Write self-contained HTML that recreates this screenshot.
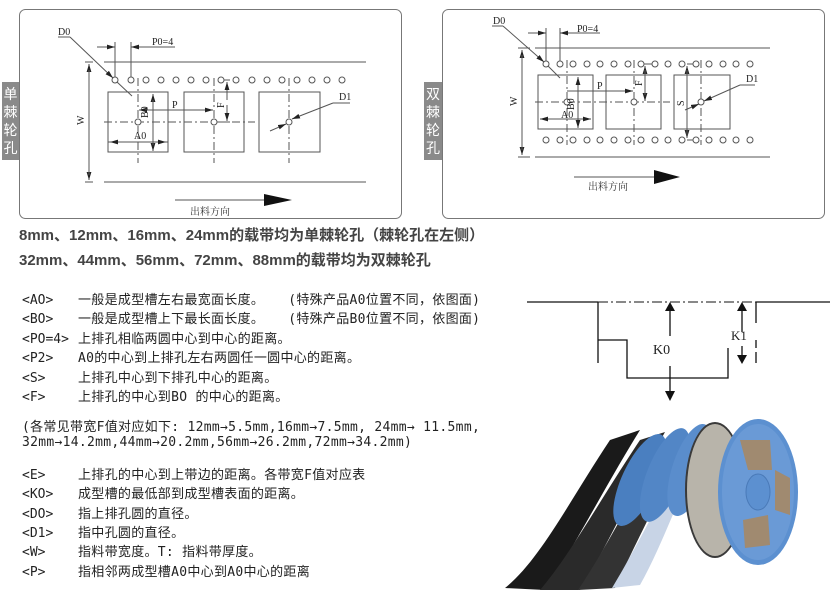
<!DOCTYPE html>
<html><head><meta charset="utf-8"><style>
html,body{margin:0;padding:0;background:#fff;}
body{width:830px;height:600px;position:relative;overflow:hidden;font-family:"Liberation Sans","Noto Sans CJK SC",sans-serif;}
.h{position:absolute;left:19px;font-weight:bold;font-size:15px;color:#444;white-space:nowrap;font-family:"Liberation Sans","Noto Sans CJK SC",sans-serif;}
.r{position:absolute;left:22px;font-size:13px;letter-spacing:0.3px;color:#222;white-space:nowrap;font-family:"DejaVu Sans Mono","Noto Sans CJK SC",monospace;}
.r span{display:inline-block;width:56px;letter-spacing:0;}
.r i{font-style:normal;margin-left:24px;}
</style></head><body>
<svg width="830" height="600" style="position:absolute;left:0;top:0" xmlns="http://www.w3.org/2000/svg">
<defs>
<marker id="a" viewBox="0 0 10 6" refX="10" refY="3" markerWidth="8" markerHeight="5" orient="auto" markerUnits="userSpaceOnUse"><path d="M0,0L10,3L0,6z" fill="#222"/></marker>
</defs>
<rect x="19.5" y="9.5" width="382" height="209" rx="6" fill="none" stroke="#777"/>
<rect x="2" y="82" width="17" height="78" fill="#8a8a8a"/>
<text x="10.5" y="99" fill="#fff" font-size="14" text-anchor="middle" font-family="Noto Sans CJK SC,sans-serif">单</text>
<text x="10.5" y="117" fill="#fff" font-size="14" text-anchor="middle" font-family="Noto Sans CJK SC,sans-serif">棘</text>
<text x="10.5" y="135" fill="#fff" font-size="14" text-anchor="middle" font-family="Noto Sans CJK SC,sans-serif">轮</text>
<text x="10.5" y="153" fill="#fff" font-size="14" text-anchor="middle" font-family="Noto Sans CJK SC,sans-serif">孔</text>
<g stroke="#555" stroke-width="1" fill="none">
<line x1="104" y1="62" x2="366" y2="62"/><line x1="85" y1="62" x2="93" y2="62"/>
<line x1="104" y1="182" x2="366" y2="182"/><line x1="85" y1="182" x2="93" y2="182"/>
<line x1="89" y1="80" x2="89" y2="64" marker-end="url(#a)"/><line x1="89" y1="160" x2="89" y2="180" marker-end="url(#a)"/><line x1="89" y1="70" x2="89" y2="175"/>
<rect x="108" y="92" width="60" height="60"/><rect x="184" y="92" width="60" height="60"/><rect x="259" y="92" width="61" height="60"/>
<line x1="104" y1="122" x2="255" y2="122" stroke-dasharray="8,3,2,3"/>
<line x1="138" y1="78" x2="138" y2="163" stroke-dasharray="8,3,2,3"/>
<line x1="214" y1="78" x2="214" y2="163" stroke-dasharray="8,3,2,3"/>
<line x1="289" y1="78" x2="289" y2="163" stroke-dasharray="8,3,2,3"/>
<line x1="115" y1="42" x2="115" y2="77"/><line x1="131" y1="42" x2="131" y2="77"/>
<line x1="97" y1="47" x2="115" y2="47" marker-end="url(#a)"/><line x1="175" y1="47" x2="131" y2="47" marker-end="url(#a)"/>
<line x1="58" y1="37" x2="70" y2="37"/><line x1="70" y1="37" x2="113" y2="78" marker-end="url(#a)"/><line x1="117" y1="82" x2="132" y2="96"/>
<line x1="108" y1="142" x2="168" y2="142"/>
<line x1="128" y1="142" x2="110" y2="142" marker-end="url(#a)"/><line x1="150" y1="142" x2="166" y2="142" marker-end="url(#a)"/>
<line x1="153" y1="110" x2="153" y2="94" marker-end="url(#a)"/><line x1="153" y1="134" x2="153" y2="151" marker-end="url(#a)"/><line x1="153" y1="100" x2="153" y2="145"/>
<line x1="150" y1="110" x2="139" y2="110" marker-end="url(#a)"/><line x1="195" y1="110" x2="213" y2="110" marker-end="url(#a)"/><line x1="145" y1="110" x2="200" y2="110"/>
<line x1="221" y1="80" x2="230" y2="80"/>
<line x1="227" y1="100" x2="227" y2="82" marker-end="url(#a)"/><line x1="227" y1="105" x2="227" y2="121" marker-end="url(#a)"/>
<line x1="223" y1="122" x2="230" y2="122"/>
<line x1="350" y1="103" x2="333" y2="103"/><line x1="333" y1="103" x2="292" y2="119" marker-end="url(#a)"/><line x1="270" y1="131" x2="286" y2="124" marker-end="url(#a)"/>
</g>
<g stroke="#555" fill="#fff">
<circle cx="115" cy="80" r="3"/><circle cx="131" cy="80" r="3"/><circle cx="146" cy="80" r="3"/><circle cx="161" cy="80" r="3"/><circle cx="176" cy="80" r="3"/><circle cx="191" cy="80" r="3"/><circle cx="206" cy="80" r="3"/><circle cx="221" cy="80" r="3"/><circle cx="236" cy="80" r="3"/><circle cx="252" cy="80" r="3"/><circle cx="267" cy="80" r="3"/><circle cx="282" cy="80" r="3"/><circle cx="297" cy="80" r="3"/><circle cx="312" cy="80" r="3"/><circle cx="327" cy="80" r="3"/><circle cx="342" cy="80" r="3"/>
<circle cx="138" cy="122" r="3"/><circle cx="214" cy="122" r="3"/><circle cx="289" cy="122" r="3"/>
</g>
<g font-family="Liberation Serif,serif" font-size="10" fill="#222">
<text x="58" y="35">D0</text><text x="152" y="45">P0=4</text><text x="339" y="100">D1</text>
<text x="172" y="108">P</text><text x="134" y="139">A0</text>
<text x="0" y="0" transform="translate(148,118) rotate(-90)">B0</text>
<text x="0" y="0" transform="translate(224,108) rotate(-90)">F</text>
<text x="0" y="0" transform="translate(84,125) rotate(-90)">W</text>
</g>
<line x1="175" y1="200" x2="266" y2="200" stroke="#555"/>
<path d="M264,194L292,200L264,206z" fill="#111"/>
<text x="190" y="215" font-size="10" fill="#333" font-family="Noto Serif CJK SC,serif">出料方向</text>

<rect x="442.5" y="9.5" width="382" height="209" rx="6" fill="none" stroke="#777"/>
<rect x="424" y="82" width="18" height="78" fill="#8a8a8a"/>
<text x="433" y="99" fill="#fff" font-size="14" text-anchor="middle" font-family="Noto Sans CJK SC,sans-serif">双</text>
<text x="433" y="117" fill="#fff" font-size="14" text-anchor="middle" font-family="Noto Sans CJK SC,sans-serif">棘</text>
<text x="433" y="135" fill="#fff" font-size="14" text-anchor="middle" font-family="Noto Sans CJK SC,sans-serif">轮</text>
<text x="433" y="153" fill="#fff" font-size="14" text-anchor="middle" font-family="Noto Sans CJK SC,sans-serif">孔</text>
<g stroke="#555" fill="none">
<line x1="535" y1="48" x2="770" y2="48"/><line x1="518" y1="48" x2="530" y2="48"/>
<line x1="535" y1="157" x2="770" y2="157"/><line x1="518" y1="157" x2="530" y2="157"/>
<line x1="522" y1="60" x2="522" y2="50" marker-end="url(#a)"/><line x1="522" y1="145" x2="522" y2="155" marker-end="url(#a)"/><line x1="522" y1="55" x2="522" y2="150"/>
<rect x="538" y="75" width="55" height="54"/><rect x="606" y="75" width="55" height="54"/><rect x="674" y="75" width="56" height="54"/>
<line x1="535" y1="102" x2="670" y2="102" stroke-dasharray="8,3,2,3"/>
<line x1="567" y1="60" x2="567" y2="145" stroke-dasharray="8,3,2,3"/>
<line x1="634" y1="60" x2="634" y2="145" stroke-dasharray="8,3,2,3"/>
<line x1="701" y1="60" x2="701" y2="145" stroke-dasharray="8,3,2,3"/>
<line x1="546" y1="28" x2="546" y2="61"/><line x1="560" y1="28" x2="560" y2="61"/>
<line x1="528" y1="33" x2="546" y2="33" marker-end="url(#a)"/><line x1="600" y1="33" x2="560" y2="33" marker-end="url(#a)"/>
<line x1="492" y1="26" x2="503" y2="26"/><line x1="503" y1="26" x2="544" y2="62" marker-end="url(#a)"/><line x1="548" y1="66" x2="560" y2="78"/>
<line x1="540" y1="119" x2="591" y2="119"/>
<line x1="555" y1="119" x2="540" y2="119" marker-end="url(#a)"/><line x1="577" y1="119" x2="591" y2="119" marker-end="url(#a)"/>
<line x1="578" y1="90" x2="578" y2="77" marker-end="url(#a)"/><line x1="578" y1="113" x2="578" y2="128" marker-end="url(#a)"/><line x1="578" y1="85" x2="578" y2="120"/>
<line x1="567" y1="91" x2="630" y2="91"/><line x1="620" y1="91" x2="633" y2="91" marker-end="url(#a)"/>
<line x1="640" y1="64" x2="652" y2="64"/>
<line x1="645" y1="85" x2="645" y2="66" marker-end="url(#a)"/><line x1="645" y1="90" x2="645" y2="101" marker-end="url(#a)"/><line x1="645" y1="70" x2="645" y2="95"/>
<line x1="687" y1="64" x2="694" y2="64"/><line x1="687" y1="140" x2="694" y2="140"/>
<line x1="687" y1="80" x2="687" y2="66" marker-end="url(#a)"/><line x1="687" y1="125" x2="687" y2="138" marker-end="url(#a)"/><line x1="687" y1="70" x2="687" y2="135"/>
<line x1="755" y1="85" x2="740" y2="85"/><line x1="740" y1="85" x2="704" y2="101" marker-end="url(#a)"/><line x1="685" y1="110" x2="699" y2="104" marker-end="url(#a)"/>
</g>
<g stroke="#555" fill="#fff">
<circle cx="546" cy="64" r="3"/><circle cx="560" cy="64" r="3"/><circle cx="573" cy="64" r="3"/><circle cx="587" cy="64" r="3"/><circle cx="600" cy="64" r="3"/><circle cx="614" cy="64" r="3"/><circle cx="628" cy="64" r="3"/><circle cx="641" cy="64" r="3"/><circle cx="655" cy="64" r="3"/><circle cx="668" cy="64" r="3"/><circle cx="682" cy="64" r="3"/><circle cx="696" cy="64" r="3"/><circle cx="709" cy="64" r="3"/><circle cx="723" cy="64" r="3"/><circle cx="736" cy="64" r="3"/><circle cx="750" cy="64" r="3"/>
<circle cx="546" cy="140" r="3"/><circle cx="560" cy="140" r="3"/><circle cx="573" cy="140" r="3"/><circle cx="587" cy="140" r="3"/><circle cx="600" cy="140" r="3"/><circle cx="614" cy="140" r="3"/><circle cx="628" cy="140" r="3"/><circle cx="641" cy="140" r="3"/><circle cx="655" cy="140" r="3"/><circle cx="668" cy="140" r="3"/><circle cx="682" cy="140" r="3"/><circle cx="696" cy="140" r="3"/><circle cx="709" cy="140" r="3"/><circle cx="723" cy="140" r="3"/><circle cx="736" cy="140" r="3"/><circle cx="750" cy="140" r="3"/>
<circle cx="567" cy="102" r="3"/><circle cx="634" cy="102" r="3"/><circle cx="701" cy="102" r="3"/>
</g>
<g font-family="Liberation Serif,serif" font-size="10" fill="#222">
<text x="493" y="24">D0</text><text x="577" y="32">P0=4</text><text x="746" y="82">D1</text>
<text x="597" y="89">P</text><text x="561" y="118">A0</text>
<text x="0" y="0" transform="translate(574,110) rotate(-90)">B0</text>
<text x="0" y="0" transform="translate(642,86) rotate(-90)">F</text>
<text x="0" y="0" transform="translate(684,106) rotate(-90)">S</text>
<text x="0" y="0" transform="translate(517,106) rotate(-90)">W</text>
</g>
<line x1="574" y1="177" x2="656" y2="177" stroke="#555"/>
<path d="M654,170L680,177L654,184z" fill="#111"/>
<text x="588" y="190" font-size="10" fill="#333" font-family="Noto Serif CJK SC,serif">出料方向</text>

<g stroke="#111" stroke-width="1.3" fill="none">
<line x1="527" y1="302" x2="598" y2="302"/>
<line x1="598" y1="302" x2="598" y2="363"/>
<line x1="598" y1="302" x2="756" y2="302" stroke-dasharray="10,3,2,3" stroke-width="1"/>
<line x1="756" y1="302" x2="830" y2="302"/>
<line x1="756" y1="302" x2="756" y2="323"/><line x1="756" y1="340" x2="756" y2="348"/><line x1="756" y1="352" x2="756" y2="363"/>
<polyline points="598,340 627,340 627,378 728,378 728,348"/>
<line x1="670" y1="336" x2="670" y2="310"/><line x1="670" y1="366" x2="670" y2="392"/>
<line x1="742" y1="332" x2="742" y2="310"/><line x1="742" y1="346" x2="742" y2="356"/>
</g>
<g fill="#111">
<path d="M665,311L670,302L675,311z"/><path d="M665,391L670,401L675,391z"/>
<path d="M737,311L742,302L747,311z"/><path d="M737,355L742,364L747,355z"/>
</g>
<text x="653" y="354" font-family="Liberation Serif,serif" font-size="14" fill="#222">K0</text>
<text x="731" y="340" font-family="Liberation Serif,serif" font-size="13" fill="#222">K1</text>

<g>
<path d="M505,588 C540,560 570,500 610,440 L640,430 C600,495 570,555 545,590 Z" fill="#1a1a1a"/>
<path d="M540,590 C570,555 600,500 640,440 L665,432 C630,495 600,560 580,590 Z" fill="#2a2a2a"/>
<path d="M578,590 C605,550 630,500 665,442 L690,435 C660,495 630,555 615,588 Z" fill="#333"/>
<path d="M612,588 C635,550 660,500 690,445 L705,440 C680,495 660,550 640,585 Z" fill="#c8d4e6"/>
<ellipse cx="640" cy="480" rx="18" ry="50" fill="#4a7fc0" transform="rotate(25 640 480)"/>
<ellipse cx="665" cy="475" rx="18" ry="50" fill="#5286c6" transform="rotate(22 665 475)"/>
<ellipse cx="690" cy="470" rx="18" ry="48" fill="#5a8dcc" transform="rotate(18 690 470)"/>
<ellipse cx="715" cy="490" rx="30" ry="68" fill="#3a3a3a"/>
<ellipse cx="715" cy="490" rx="28" ry="66" fill="#b8b4aa"/>
<ellipse cx="758" cy="492" rx="40" ry="73" fill="#5c90d0"/>
<ellipse cx="758" cy="492" rx="36" ry="68" fill="#6a9ad6"/>
<path d="M740,440 L770,440 L772,470 L748,470 Z" fill="#a08a70"/>
<path d="M775,470 L790,478 L790,515 L775,510 Z" fill="#a08a70"/>
<path d="M743,520 L768,515 L770,545 L745,548 Z" fill="#a08a70"/>
<ellipse cx="758" cy="492" rx="12" ry="18" fill="#5c90d0" stroke="#4a7ab8"/>
</g>
</svg>
<div class="h" style="top:224px">8mm、12mm、16mm、24mm的载带均为单棘轮孔（棘轮孔在左侧）</div>
<div class="h" style="top:249px">32mm、44mm、56mm、72mm、88mm的载带均为双棘轮孔</div>
<div class="r" style="top:289px"><span>&lt;AO&gt;</span>一般是成型槽左右最宽面长度。<i>(特殊产品A0位置不同，依图面)</i></div>
<div class="r" style="top:308px"><span>&lt;BO&gt;</span>一般是成型槽上下最长面长度。<i>(特殊产品B0位置不同，依图面)</i></div>
<div class="r" style="top:328px"><span>&lt;PO=4&gt;</span>上排孔相临两圆中心到中心的距离。</div>
<div class="r" style="top:347px"><span>&lt;P2&gt;</span>A0的中心到上排孔左右两圆任一圆中心的距离。</div>
<div class="r" style="top:367px"><span>&lt;S&gt;</span>上排孔中心到下排孔中心的距离。</div>
<div class="r" style="top:386px"><span>&lt;F&gt;</span>上排孔的中心到BO 的中心的距离。</div>
<div class="r" style="top:416px">(各常见带宽F值对应如下: 12mm→5.5mm,16mm→7.5mm, 24mm→ 11.5mm,</div>
<div class="r" style="top:435px">32mm→14.2mm,44mm→20.2mm,56mm→26.2mm,72mm→34.2mm)</div>
<div class="r" style="top:464px"><span>&lt;E&gt;</span>上排孔的中心到上带边的距离。各带宽F值对应表</div>
<div class="r" style="top:483px"><span>&lt;KO&gt;</span>成型槽的最低部到成型槽表面的距离。</div>
<div class="r" style="top:503px"><span>&lt;DO&gt;</span>指上排孔圆的直径。</div>
<div class="r" style="top:522px"><span>&lt;D1&gt;</span>指中孔圆的直径。</div>
<div class="r" style="top:541px"><span>&lt;W&gt;</span>指料带宽度。T: 指料带厚度。</div>
<div class="r" style="top:561px"><span>&lt;P&gt;</span>指相邻两成型槽A0中心到A0中心的距离</div>
</body></html>
